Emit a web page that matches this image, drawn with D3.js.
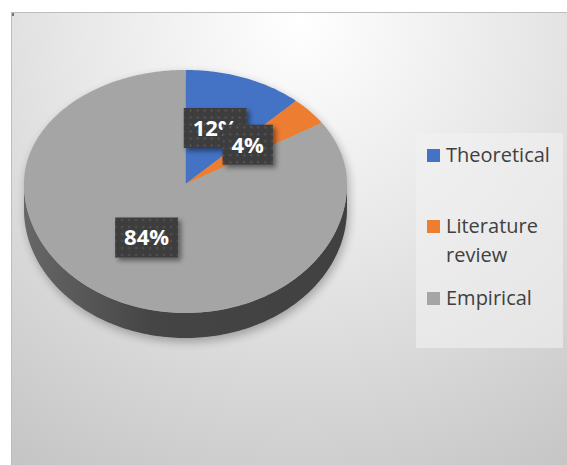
<!DOCTYPE html>
<html>
<head>
<meta charset="utf-8">
<script src="https://cdn.jsdelivr.net/npm/d3@7"></script>
<style>
  body { margin: 0; background: #fff; }
  svg { display: block; }
</style>
</head>
<body>
<svg id="chart" width="567" height="465"></svg>
<script>
// data
var categories = ["Theoretical", "Literature review", "Empirical"];
var values = [12, 4, 84];
var colors = ["#4472C4", "#ED7D31", "#A5A5A5"];
var legendLines = [["Theoretical"], ["Literature", "review"], ["Empirical"]];

var params = {
  cx: 185.5, cy: 184,      // apex of the pie
  rx: 161.5, ryTop: 114, ryBot: 129,
  depth: 25,
  labelR: 0.5
};

var svg = d3.select("#chart");
var defs = svg.append("defs");

// background gradient of the chart area
var bg = defs.append("radialGradient")
    .attr("id", "bg")
    .attr("gradientUnits", "userSpaceOnUse")
    .attr("cx", 300).attr("cy", 20).attr("r", 540);
bg.append("stop").attr("offset", 0).attr("stop-color", "#ffffff");
bg.append("stop").attr("offset", 0.45).attr("stop-color", "#e6e6e6");
bg.append("stop").attr("offset", 1).attr("stop-color", "#c3c3c3");

var side = defs.append("linearGradient")
    .attr("id", "sideHi")
    .attr("x1", 0).attr("x2", 1).attr("y1", 0).attr("y2", 0);
side.append("stop").attr("offset", 0).attr("stop-color", "#fff").attr("stop-opacity", 0.2);
side.append("stop").attr("offset", 0.4).attr("stop-color", "#fff").attr("stop-opacity", 0.02);
side.append("stop").attr("offset", 1).attr("stop-color", "#fff").attr("stop-opacity", 0);

defs.append("filter").attr("id", "blur")
    .attr("x", "-20%").attr("y", "-20%").attr("width", "140%").attr("height", "140%")
  .append("feGaussianBlur").attr("stdDeviation", 5);

var sh = defs.append("filter").attr("id", "boxShadow")
    .attr("x", "-30%").attr("y", "-30%").attr("width", "170%").attr("height", "170%");
sh.append("feDropShadow").attr("dx", 3).attr("dy", 3).attr("stdDeviation", 2.5)
    .attr("flood-color", "#000").attr("flood-opacity", 0.45);

var dots = defs.append("pattern")
    .attr("id", "dots")
    .attr("patternUnits", "userSpaceOnUse")
    .attr("width", 7).attr("height", 7);
dots.append("rect").attr("width", 7).attr("height", 7).attr("fill", "#3d3d3d");
dots.append("circle").attr("cx", 3.5).attr("cy", 3.5).attr("r", 1.1).attr("fill", "#5c5c5c");

// chart area
svg.append("rect")
    .attr("x", 11.5).attr("y", 12.5)
    .attr("width", 560).attr("height", 460)
    .attr("fill", "url(#bg)")
    .attr("stroke", "#bdbdbd");
svg.append("rect").attr("x", 12).attr("y", 13).attr("width", 2).attr("height", 3).attr("fill", "#777");

// point on the tilted pie for angle a (0 = 12 o'clock, clockwise)
function proj(a, r, dz) {
  var c = Math.cos(a);
  var ry = c > 0 ? params.ryTop : params.ryBot;
  return [params.cx + params.rx * r * Math.sin(a),
          params.cy - ry * r * c + (dz || 0)];
}

function arcPoints(a0, a1, dz) {
  var n = Math.max(2, Math.ceil((a1 - a0) / 0.02));
  return d3.range(n + 1).map(function(i) { return proj(a0 + (a1 - a0) * i / n, 1, dz); });
}

var pie = d3.pie().sort(null).value(function(d) { return d; });
var arcs = pie(values);

var line = d3.line();

// soft shadow under the whole pie
var outline = arcPoints(Math.PI / 2, 1.5 * Math.PI, params.depth)
    .concat(arcPoints(-Math.PI / 2, Math.PI / 2, 0));
svg.append("path")
    .attr("d", line(outline) + "Z")
    .attr("transform", "translate(2,4)")
    .attr("fill", "#000")
    .attr("opacity", 0.28)
    .attr("filter", "url(#blur)");

// side walls (only the front half is visible)
arcs.forEach(function(d, i) {
  var a0 = Math.max(d.startAngle, Math.PI / 2);
  var a1 = Math.min(d.endAngle, 1.5 * Math.PI);
  if (a1 <= a0) return;
  var pts = arcPoints(a0, a1, 0).concat(arcPoints(a0, a1, params.depth).reverse());
  svg.append("path")
      .attr("d", line(pts) + "Z")
      .attr("fill", d3.color(colors[i]).darker(2.6));
  svg.append("path")
      .attr("d", line(pts) + "Z")
      .attr("fill", "url(#sideHi)");
});

// top faces
svg.selectAll(".slice")
  .data(arcs)
  .join("path")
    .attr("class", "slice")
    .attr("d", function(d) {
      return line([proj(0, 0)].concat(arcPoints(d.startAngle, d.endAngle, 0))) + "Z";
    })
    .attr("fill", function(d, i) { return colors[i]; });

// data labels
var labels = svg.selectAll(".lbl")
  .data(arcs)
  .join("g")
    .attr("class", "lbl")
    .attr("transform", function(d) {
      var p = proj((d.startAngle + d.endAngle) / 2, params.labelR);
      return "translate(" + p[0] + "," + (p[1] - 3) + ")";
    });

labels.each(function(d) {
  var g = d3.select(this);
  var t = g.append("text")
      .attr("text-anchor", "middle")
      .attr("dy", "0.36em")
      .attr("font-family", "'Open Sans', sans-serif")
      .attr("font-weight", "bold")
      .attr("font-size", 22)
      .attr("fill", "#fff")
      .text(d3.format(".0%")(d.value / 100));
  var w = t.node().getComputedTextLength() + 18;
  g.insert("rect", "text")
      .attr("x", -w / 2).attr("y", -20)
      .attr("width", w).attr("height", 40)
      .attr("fill", "url(#dots)")
      .attr("filter", "url(#boxShadow)");
});

// legend
svg.append("rect")
    .attr("x", 416).attr("y", 133)
    .attr("width", 147).attr("height", 215)
    .attr("fill", "#f2f2f2").attr("opacity", 0.6);

var legendY = [162, 233, 305];
var legend = svg.selectAll(".leg")
  .data(categories)
  .join("g")
    .attr("class", "leg")
    .attr("transform", function(d, i) { return "translate(427," + legendY[i] + ")"; });

legend.append("rect")
    .attr("x", 0).attr("y", -13)
    .attr("width", 13).attr("height", 13)
    .attr("fill", function(d, i) { return colors[i]; });

legend.append("text")
    .attr("x", 19)
    .attr("font-family", "'Open Sans', sans-serif")
    .attr("font-size", 20)
    .attr("fill", "#404040")
    .selectAll("tspan")
    .data(function(d, i) { return legendLines[i]; })
    .join("tspan")
      .attr("x", 19)
      .attr("dy", function(d, j) { return j === 0 ? 0 : 29; })
      .text(function(d) { return d; });
</script>
</body>
</html>
